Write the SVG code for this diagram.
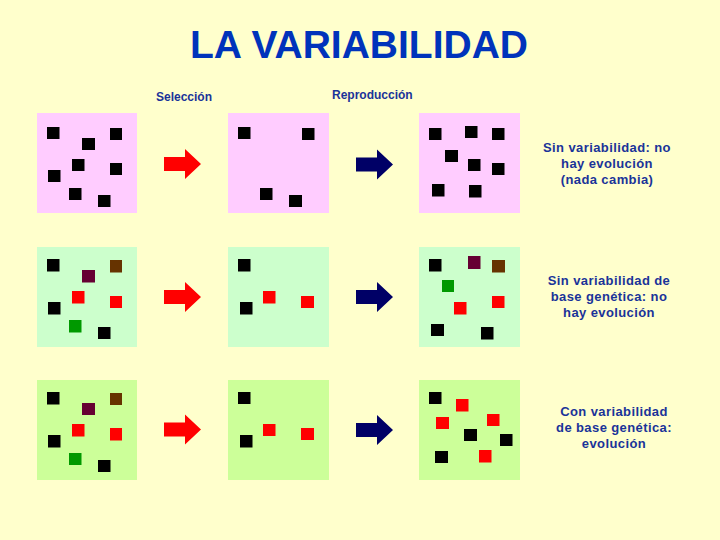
<svg xmlns="http://www.w3.org/2000/svg" xmlns:xlink="http://www.w3.org/1999/xlink" width="720" height="540" viewBox="0 0 720 540">
<style>
.pk{fill:#ffccff}.lg{fill:#ccffcc}.yg{fill:#ccff99}
.k{fill:#000000}.r{fill:#ff0000}.p{fill:#660033}.b{fill:#663300}.g{fill:#009900}
.title{font-family:"Liberation Sans",Arial,sans-serif;font-size:39px;font-weight:bold;fill:#0033bb;text-anchor:middle}
.hd{font-family:"Liberation Sans",Arial,sans-serif;font-size:12px;font-weight:bold;fill:#1a3399}
.note{font-family:"Liberation Sans",Arial,sans-serif;font-size:13px;font-weight:bold;fill:#1a3399;text-anchor:middle;letter-spacing:0.4px}
</style>
<defs>
<path id="arr" d="M0,-7 H21 V-15 L37,0 L21,15 V7 H0 Z"/>
</defs>
<rect width="720" height="540" fill="#ffffcc"/>
<text class="title" x="359" y="58">LA VARIABILIDAD</text>
<text class="hd" x="156" y="101">Selección</text>
<text class="hd" x="332" y="99">Reproducción</text>

<g id="r1p1">
<rect class="pk" x="37" y="113" width="100" height="100"/>
<rect class="k" x="47" y="127" width="12.5" height="12"/>
<rect class="k" x="82" y="138" width="13" height="12"/>
<rect class="k" x="110" y="128" width="12" height="12"/>
<rect class="k" x="72" y="159" width="12.5" height="12"/>
<rect class="k" x="110" y="163" width="12" height="12"/>
<rect class="k" x="48" y="170" width="12.5" height="12"/>
<rect class="k" x="69" y="188" width="12.5" height="12"/>
<rect class="k" x="98" y="195" width="12.5" height="12"/>
</g>
<g id="r1p2">
<rect class="pk" x="228" y="113" width="101" height="100"/>
<rect class="k" x="238" y="127" width="12.5" height="12"/>
<rect class="k" x="302" y="128" width="12.5" height="12"/>
<rect class="k" x="260" y="188" width="12.5" height="12"/>
<rect class="k" x="289" y="195" width="13" height="12"/>
</g>
<g id="r1p3">
<rect class="pk" x="419" y="113" width="101" height="100"/>
<rect class="k" x="429" y="128" width="12.5" height="12"/>
<rect class="k" x="465" y="126" width="12.5" height="12"/>
<rect class="k" x="492" y="128" width="12.5" height="12"/>
<rect class="k" x="445" y="150" width="13" height="12"/>
<rect class="k" x="468" y="159" width="12.5" height="12"/>
<rect class="k" x="492" y="163" width="12.5" height="12"/>
<rect class="k" x="432" y="184" width="12.5" height="12.5"/>
<rect class="k" x="469" y="185" width="12.5" height="12.5"/>
</g>
<g id="r1txt">
<text class="note" x="607" y="152">Sin variabilidad: no</text>
<text class="note" x="607" y="168">hay evolución</text>
<text class="note" x="607" y="184">(nada cambia)</text>
</g>

<g id="r2p1">
<rect class="lg" x="37" y="247" width="100" height="100"/>
<rect class="k" x="47" y="259" width="12.5" height="12.5"/>
<rect class="p" x="82" y="270" width="13" height="12.5"/>
<rect class="b" x="110" y="260" width="12" height="12.5"/>
<rect class="r" x="72" y="291" width="12.5" height="12.5"/>
<rect class="r" x="110" y="296" width="12" height="12"/>
<rect class="k" x="48" y="302" width="12.5" height="12.5"/>
<rect class="g" x="69" y="320" width="12.5" height="12.5"/>
<rect class="k" x="98" y="327" width="12.5" height="12"/>
</g>
<g id="r2p2">
<rect class="lg" x="228" y="247" width="101" height="100"/>
<rect class="k" x="238" y="259" width="12.5" height="12.5"/>
<rect class="r" x="263" y="291" width="12.5" height="12.5"/>
<rect class="r" x="301" y="296" width="13" height="12"/>
<rect class="k" x="240" y="302" width="12.5" height="12.5"/>
</g>
<g id="r2p3">
<rect class="lg" x="419" y="247" width="101" height="100"/>
<rect class="k" x="429" y="259" width="12.5" height="12.5"/>
<rect class="p" x="468" y="256" width="12.5" height="13"/>
<rect class="b" x="492" y="260" width="13" height="12.5"/>
<rect class="g" x="442" y="280" width="12" height="12"/>
<rect class="r" x="454" y="302" width="12.5" height="12.5"/>
<rect class="r" x="492" y="296" width="12.5" height="12"/>
<rect class="k" x="431" y="324" width="13" height="12"/>
<rect class="k" x="481" y="327" width="12.5" height="12.5"/>
</g>
<g id="r2txt">
<text class="note" x="609" y="285">Sin variabilidad de</text>
<text class="note" x="609" y="301">base genética: no</text>
<text class="note" x="609" y="317">hay evolución</text>
</g>

<g id="r3p1">
<rect class="yg" x="37" y="380" width="100" height="100"/>
<rect class="k" x="47" y="392" width="12.5" height="12.5"/>
<rect class="p" x="82" y="403" width="13" height="12"/>
<rect class="b" x="110" y="393" width="12" height="12"/>
<rect class="r" x="72" y="424" width="12.5" height="12.5"/>
<rect class="r" x="110" y="428" width="12" height="12.5"/>
<rect class="k" x="48" y="435" width="12.5" height="12.5"/>
<rect class="g" x="69" y="453" width="12.5" height="12"/>
<rect class="k" x="98" y="460" width="12.5" height="12"/>
</g>
<g id="r3p2">
<rect class="yg" x="228" y="380" width="101" height="100"/>
<rect class="k" x="238" y="392" width="12.5" height="12"/>
<rect class="r" x="263" y="424" width="12.5" height="12"/>
<rect class="r" x="301" y="428" width="13" height="12"/>
<rect class="k" x="240" y="435" width="12.5" height="12.5"/>
</g>
<g id="r3p3">
<rect class="yg" x="419" y="380" width="101" height="100"/>
<rect class="k" x="429" y="392" width="12.5" height="12"/>
<rect class="r" x="456" y="399" width="12.5" height="12.5"/>
<rect class="r" x="436" y="417" width="13" height="12"/>
<rect class="r" x="487" y="414" width="12.5" height="12"/>
<rect class="k" x="464" y="429" width="13" height="12"/>
<rect class="k" x="500" y="434" width="12.5" height="12"/>
<rect class="k" x="435" y="451" width="13" height="12"/>
<rect class="r" x="479" y="450" width="12.5" height="12.5"/>
</g>
<g id="r3txt">
<text class="note" x="614" y="416">Con variabilidad</text>
<text class="note" x="614" y="432">de base genética:</text>
<text class="note" x="614" y="448">evolución</text>
</g>

<g id="connectors">
<use xlink:href="#arr" href="#arr" fill="#ff0000" transform="translate(164,164)"/>
<use xlink:href="#arr" href="#arr" fill="#000066" transform="translate(356,164.5)"/>
<use xlink:href="#arr" href="#arr" fill="#ff0000" transform="translate(164,297)"/>
<use xlink:href="#arr" href="#arr" fill="#000066" transform="translate(356,297)"/>
<use xlink:href="#arr" href="#arr" fill="#ff0000" transform="translate(164,429.5)"/>
<use xlink:href="#arr" href="#arr" fill="#000066" transform="translate(356,430)"/>
</g>
</svg>
